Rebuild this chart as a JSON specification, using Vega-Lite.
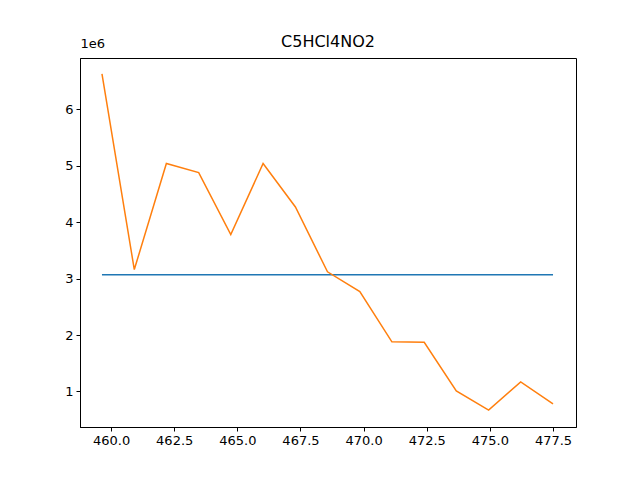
{
  "$schema": "https://vega.github.io/schema/vega-lite/v6.json",
  "width": 496,
  "height": 369,
  "autosize": "none",
  "padding": {"left": 80, "top": 58, "right": 64, "bottom": 53},
  "background": "white",
  "title": {"text": "C5HCl4NO2", "font": "DejaVu Sans", "fontSize": 16, "fontWeight": "normal", "offset": 8, "dy": 21, "color": "black"},
  "config": {
    "view": {"stroke": "black", "strokeWidth": 1},
    "axis": {"grid": false, "domainColor": "black", "tickColor": "black", "labelColor": "black", "labelFont": "DejaVu Sans", "labelFontSize": 13, "tickSize": 4, "labelPadding": 3}
  },
  "data": {
    "values": [
      {"x": 459.64, "y": 3.07, "s": "a"},
      {"x": 477.5, "y": 3.07, "s": "a"},
      {"x": 459.64, "y": 6.63, "s": "b"},
      {"x": 460.92, "y": 3.16, "s": "b"},
      {"x": 462.19, "y": 5.04, "s": "b"},
      {"x": 463.47, "y": 4.88, "s": "b"},
      {"x": 464.74, "y": 3.78, "s": "b"},
      {"x": 466.02, "y": 5.04, "s": "b"},
      {"x": 467.3, "y": 4.27, "s": "b"},
      {"x": 468.57, "y": 3.12, "s": "b"},
      {"x": 469.85, "y": 2.77, "s": "b"},
      {"x": 471.12, "y": 1.88, "s": "b"},
      {"x": 472.4, "y": 1.87, "s": "b"},
      {"x": 473.67, "y": 1.01, "s": "b"},
      {"x": 474.95, "y": 0.67, "s": "b"},
      {"x": 476.22, "y": 1.17, "s": "b"},
      {"x": 477.5, "y": 0.78, "s": "b"}
    ]
  },
  "mark": {"type": "line", "strokeWidth": 1.5},
  "encoding": {
    "x": {"field": "x", "type": "quantitative", "scale": {"domain": [458.77, 478.41], "nice": false, "zero": false},
      "axis": {"values": [460, 462.5, 465, 467.5, 470, 472.5, 475, 477.5], "format": ".1f", "title": null}},
    "y": {"field": "y", "type": "quantitative", "scale": {"domain": [0.37, 6.91], "nice": false, "zero": false},
      "axis": {"values": [1, 2, 3, 4, 5, 6], "format": "d", "title": "1e6", "titleAngle": 0, "titleX": 0, "titleY": -8, "titleAlign": "left", "titleFont": "DejaVu Sans", "titleFontSize": 13, "titleFontWeight": "normal", "titleColor": "black"}},
    "color": {"field": "s", "type": "nominal", "scale": {"domain": ["a", "b"], "range": ["#1f77b4", "#ff7f0e"]}, "legend": null}
  }
}
